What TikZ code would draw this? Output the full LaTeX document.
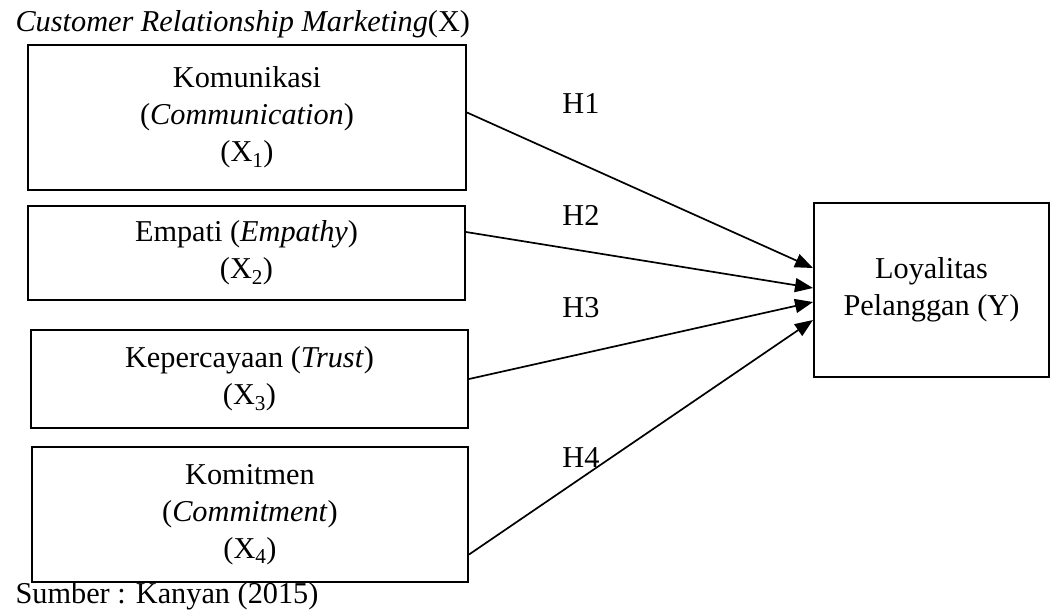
\documentclass[tikz,border=0pt]{standalone}
\usepackage{fontspec}
\setmainfont{Liberation Serif}
\usetikzlibrary{arrows.meta}

\tikzstyle{var}=[rectangle,draw,line width=2pt,align=center,inner sep=0pt]
\tikzstyle{hyp}=[-{Triangle[length=18pt,width=14pt]},line width=1.7pt]

\begin{document}
\begin{tikzpicture}[x=1pt,y=-1pt,font=\fontsize{30.3}{37}\selectfont]
\useasboundingbox (0,0) rectangle (1051,614);
%\draw[help lines,step=50] (0,0) grid (1051,614);
\node[anchor=west] (crm) at (12,24) {\textit{Customer Relationship Marketing}(X)};
\node[var,minimum width=438pt,minimum height=145pt] (x1) at (247,117.5)
  {Komunikasi\\(\textit{Communication})\\(X\textsubscript{1})};
\node[var,minimum width=437pt,minimum height=94pt]  (x2) at (246.5,253)
  {Empati (\textit{Empathy})\\(X\textsubscript{2})};
\node[var,minimum width=437pt,minimum height=98pt]  (x3) at (249.5,379)
  {Kepercayaan (\textit{Trust})\\(X\textsubscript{3})};
\node[var,minimum width=436pt,minimum height=135pt] (x4) at (250,514.5)
  {Komitmen\\(\textit{Commitment})\\(X\textsubscript{4})};
\node[var,minimum width=235pt,minimum height=174pt] (y)  at (931.5,290)
  {Loyalitas\\Pelanggan (Y)};
\node[anchor=west] (src) at (12,596) {Sumber : Kanyan (2015)};
\node (h1) at (581,103) {H1};
\node (h2) at (581,215) {H2};
\node (h3) at (581,308) {H3};
\node (h4) at (581,458) {H4};
\path[hyp]
([yshift=5pt]x1.east)   edge ([yshift=22pt]y.west)
([yshift=21pt]x2.east)  edge ([yshift=2pt]y.west)
(x3.east)               edge ([yshift=-12pt]y.west)
([yshift=-40pt]x4.east) edge ([yshift=-30pt]y.west);
\end{tikzpicture}
\end{document}
